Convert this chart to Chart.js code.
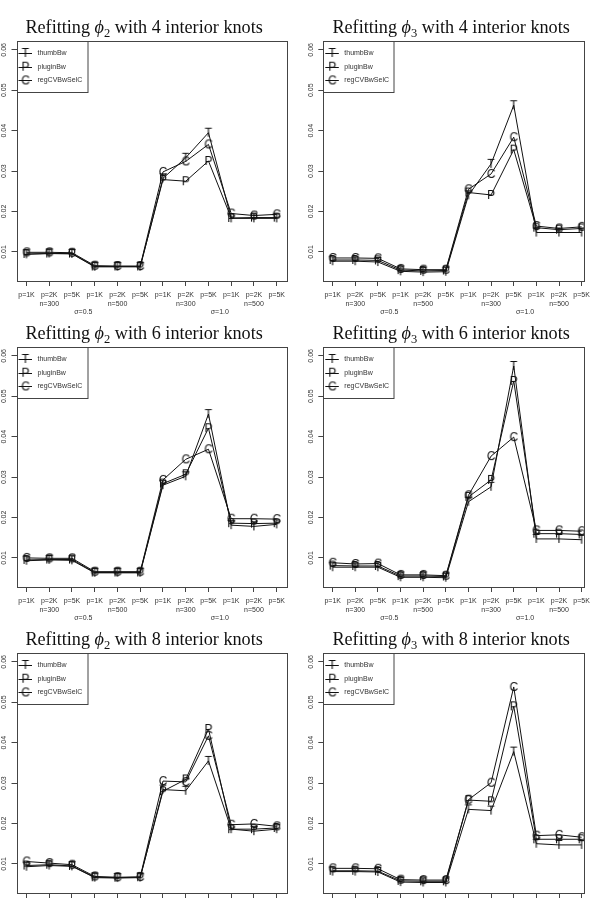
<!DOCTYPE html>
<html>
<head>
<meta charset="utf-8">
<script src="https://cdn.jsdelivr.net/npm/chart.js@4/dist/chart.umd.min.js"></script>
<style>
  body { margin: 0; background: #fff; width: 595px; height: 901px; overflow: hidden; position: relative; }
  canvas { position: absolute; }
</style>
</head>
<body>
<canvas id="p0" width="300" height="320" style="left:0;top:0"></canvas>
<canvas id="p1" width="300" height="320" style="left:295px;top:0"></canvas>
<canvas id="p2" width="300" height="320" style="left:0;top:306px"></canvas>
<canvas id="p3" width="300" height="320" style="left:295px;top:306px"></canvas>
<canvas id="p4" width="300" height="320" style="left:0;top:612px"></canvas>
<canvas id="p5" width="300" height="320" style="left:295px;top:612px"></canvas>
<script>
// categories
const xLabels = ['p=1K','p=2K','p=5K','p=1K','p=2K','p=5K','p=1K','p=2K','p=5K','p=1K','p=2K','p=5K'];
const nLabels = ['','n=300','','','n=500','','','n=300','','','n=500',''];
const sigmaLabels = ['σ=0.5', 'σ=1.0'];
const sigmaPos = [3.5, 9.5];
const yTicks = [0.01, 0.02, 0.03, 0.04, 0.05, 0.06];
const yTickLabels = ['0.01', '0.02', '0.03', '0.04', '0.05', '0.06'];
const seriesNames = ['thumbBw', 'pluginBw', 'regCVBwSelC'];
const seriesMarks = ['T', 'P', 'C'];

// phi2, 4 knots
const phi2k4Thumb  = [0.0094,0.0096,0.0095,0.0063,0.0063,0.0063,0.0282,0.0333,0.0395,0.0183,0.0183,0.0183];
const phi2k4Plugin = [0.0095,0.0096,0.0096,0.0064,0.0064,0.0064,0.0279,0.0275,0.0325,0.0184,0.0185,0.0185];
const phi2k4RegCV  = [0.0099,0.0099,0.0098,0.0066,0.0065,0.0065,0.0298,0.0324,0.0366,0.0195,0.0190,0.0193];
// phi3, 4 knots
const phi3k4Thumb  = [0.0077,0.0077,0.0075,0.0052,0.0050,0.0051,0.0240,0.0318,0.0463,0.0148,0.0148,0.0148];
const phi3k4Plugin = [0.0080,0.0080,0.0079,0.0055,0.0053,0.0054,0.0247,0.0241,0.0353,0.0160,0.0155,0.0158];
const phi3k4RegCV  = [0.0085,0.0085,0.0084,0.0058,0.0056,0.0056,0.0255,0.0293,0.0384,0.0164,0.0158,0.0162];
// phi2, 6 knots
const phi2k6Thumb  = [0.0093,0.0095,0.0094,0.0063,0.0063,0.0063,0.0280,0.0302,0.0456,0.0181,0.0178,0.0183];
const phi2k6Plugin = [0.0095,0.0096,0.0096,0.0064,0.0064,0.0064,0.0284,0.0307,0.0421,0.0186,0.0185,0.0186];
const phi2k6RegCV  = [0.0100,0.0099,0.0099,0.0066,0.0066,0.0066,0.0293,0.0344,0.0369,0.0197,0.0197,0.0196];
// phi3, 6 knots
const phi3k6Thumb  = [0.0077,0.0077,0.0077,0.0052,0.0052,0.0051,0.0239,0.0276,0.0575,0.0147,0.0147,0.0145];
const phi3k6Plugin = [0.0081,0.0080,0.0080,0.0055,0.0055,0.0054,0.0251,0.0293,0.0538,0.0160,0.0160,0.0158];
const phi3k6RegCV  = [0.0088,0.0085,0.0086,0.0058,0.0058,0.0056,0.0255,0.0352,0.0399,0.0168,0.0168,0.0166];
// phi2, 8 knots
const phi2k8Thumb  = [0.0093,0.0096,0.0094,0.0066,0.0065,0.0066,0.0284,0.0281,0.0355,0.0186,0.0181,0.0186];
const phi2k8Plugin = [0.0096,0.0098,0.0095,0.0067,0.0066,0.0067,0.0280,0.0309,0.0434,0.0186,0.0186,0.0189];
const phi2k8RegCV  = [0.0106,0.0102,0.0098,0.0069,0.0067,0.0068,0.0305,0.0303,0.0417,0.0197,0.0199,0.0193];
// phi3, 8 knots
const phi3k8Thumb  = [0.0081,0.0081,0.0080,0.0055,0.0054,0.0054,0.0235,0.0232,0.0378,0.0150,0.0147,0.0147];
const phi3k8Plugin = [0.0083,0.0083,0.0082,0.0058,0.0057,0.0057,0.0258,0.0255,0.0490,0.0161,0.0161,0.0161];
const phi3k8RegCV  = [0.0089,0.0089,0.0088,0.0061,0.0060,0.0060,0.0259,0.0301,0.0538,0.0170,0.0172,0.0166];

const panels = [
  { id: 'p0', phi: '2', knots: 4, col: 0, series: [phi2k4Thumb, phi2k4Plugin, phi2k4RegCV] },
  { id: 'p1', phi: '3', knots: 4, col: 1, series: [phi3k4Thumb, phi3k4Plugin, phi3k4RegCV] },
  { id: 'p2', phi: '2', knots: 6, col: 0, series: [phi2k6Thumb, phi2k6Plugin, phi2k6RegCV] },
  { id: 'p3', phi: '3', knots: 6, col: 1, series: [phi3k6Thumb, phi3k6Plugin, phi3k6RegCV] },
  { id: 'p4', phi: '2', knots: 8, col: 0, series: [phi2k8Thumb, phi2k8Plugin, phi2k8RegCV] },
  { id: 'p5', phi: '3', knots: 8, col: 1, series: [phi3k8Thumb, phi3k8Plugin, phi3k8RegCV] },
];

const INK = '#111';
const AXIS = '#444';
const SANS = '"Liberation Sans", Arial, sans-serif';
const SERIF = '"Liberation Serif", "DejaVu Serif", serif';

// letter markers like R's pch = "T" etc.
function letterMark(ch) {
  const c = document.createElement('canvas');
  c.width = 16; c.height = 16;
  const g = c.getContext('2d');
  g.fillStyle = INK;
  g.font = '12px ' + SANS;
  g.textAlign = 'center';
  g.textBaseline = 'alphabetic';
  g.fillText(ch, 8, 12.3);
  return c;
}
const markImgs = seriesMarks.map(letterMark);

// per column geometry (left panel / right panel differ a bit)
const colGeom = [
  { yW: 16.5, padR: 13.3, xMin: 0.56, xMax: 12.44, titleDx: -7.5 },
  { yW: 28.3, padR: 10.3, xMin: 0.586, xMax: 12.10, titleDx: -2.5 },
];

const rPlot = {
  id: 'rPlot',
  afterDraw(chart, args, opts) {
    const { ctx, chartArea: a, scales } = chart;
    const x = scales.x, y = scales.y;
    const L = Math.round(a.left) + 0.5, T = Math.round(a.top) + 0.5;
    const R = Math.round(a.right) + 0.5, B = Math.round(a.bottom) + 0.5;
    ctx.save();
    // box
    ctx.strokeStyle = AXIS; ctx.lineWidth = 1;
    ctx.strokeRect(L, T, R - L, B - T);

    // y tick labels, rotated like R
    ctx.fillStyle = '#333';
    ctx.font = '7px ' + SANS;
    ctx.textAlign = 'center'; ctx.textBaseline = 'middle';
    yTicks.forEach((v, i) => {
      ctx.save();
      ctx.translate(a.left - 12.5, y.getPixelForValue(v));
      ctx.rotate(-Math.PI / 2);
      ctx.fillText(yTickLabels[i], 0, 0);
      ctx.restore();
    });

    // sigma group labels
    sigmaPos.forEach((p, i) => ctx.fillText(sigmaLabels[i], x.getPixelForValue(p), a.bottom + 31));

    // title
    const cx = (a.left + a.right) / 2 + opts.dx, by = 32.5;
    const big = '18.2px ' + SERIF, ital = 'italic 18.2px ' + SERIF, small = '12.5px ' + SERIF;
    const parts = [
      { t: 'Refitting ', f: big, dy: 0 },
      { t: 'ϕ', f: ital, dy: 0 },
      { t: opts.phi, f: small, dy: 4 },
      { t: ' with ' + opts.knots + ' interior knots', f: big, dy: 0 },
    ];
    let w = 0;
    parts.forEach(p => { ctx.font = p.f; p.w = ctx.measureText(p.t).width; w += p.w; });
    let tx = cx - w / 2;
    ctx.fillStyle = '#111';
    ctx.textAlign = 'left'; ctx.textBaseline = 'alphabetic';
    parts.forEach(p => { ctx.font = p.f; ctx.fillText(p.t, tx, by + p.dy); tx += p.w; });

    // legend box in the top-left corner
    const lw = 70.5, lh = 51;
    ctx.fillStyle = '#fff';
    ctx.fillRect(L, T, lw, lh);
    ctx.strokeStyle = AXIS;
    ctx.strokeRect(L, T, lw, lh);
    ctx.font = '7px ' + SANS;
    ctx.textBaseline = 'middle';
    chart.data.datasets.forEach((ds, i) => {
      const ly = a.top + 12 + i * 13.7;
      ctx.strokeStyle = INK; ctx.lineWidth = 1;
      ctx.beginPath();
      ctx.moveTo(a.left + 2, Math.round(ly) + 0.5);
      ctx.lineTo(a.left + 15.5, Math.round(ly) + 0.5);
      ctx.stroke();
      const img = ds.pointStyle;
      ctx.drawImage(img, a.left + 9 - img.width / 2, ly - img.height / 2);
      ctx.fillStyle = '#333';
      ctx.fillText(ds.label, a.left + 21, ly);
    });
    ctx.restore();
  }
};

panels.forEach(p => {
  const g = colGeom[p.col];
  new Chart(document.getElementById(p.id), {
    type: 'line',
    data: {
      datasets: p.series.map((vals, i) => ({
        label: seriesNames[i],
        data: vals.map((v, k) => ({ x: k + 1, y: v })),
        borderColor: INK,
        borderWidth: 1,
        pointStyle: markImgs[i],
        pointRadius: 5,
        fill: false,
        tension: 0,
      })),
    },
    options: {
      responsive: false,
      animation: false,
      events: [],
      layout: { padding: { left: 0, right: g.padR, top: 41, bottom: 0 } },
      plugins: {
        legend: { display: false },
        tooltip: { enabled: false },
        rPlot: { phi: p.phi, knots: p.knots, dx: g.titleDx },
      },
      scales: {
        x: {
          type: 'linear',
          min: g.xMin, max: g.xMax,
          afterBuildTicks: s => { s.ticks = xLabels.map((_, k) => ({ value: k + 1 })); },
          afterFit: s => { s.height = 39; },
          border: { display: false },
          grid: { drawOnChartArea: false, drawTicks: true, tickLength: 5, color: AXIS, lineWidth: 1 },
          ticks: {
            autoSkip: false, maxRotation: 0, minRotation: 0, padding: 5,
            color: '#333', font: { family: SANS, size: 7, lineHeight: 1.2 },
            callback: (v, k) => nLabels[k] ? [xLabels[k], nLabels[k]] : xLabels[k],
          },
        },
        y: {
          type: 'linear',
          min: 0.0028, max: 0.0622,
          afterBuildTicks: s => { s.ticks = yTicks.map(v => ({ value: v })); },
          afterFit: s => { s.width = g.yW; },
          border: { display: false },
          grid: { drawOnChartArea: false, drawTicks: true, tickLength: 5, color: AXIS, lineWidth: 1 },
          ticks: { display: false },
        },
      },
    },
    plugins: [rPlot],
  });
});
</script>
</body>
</html>
